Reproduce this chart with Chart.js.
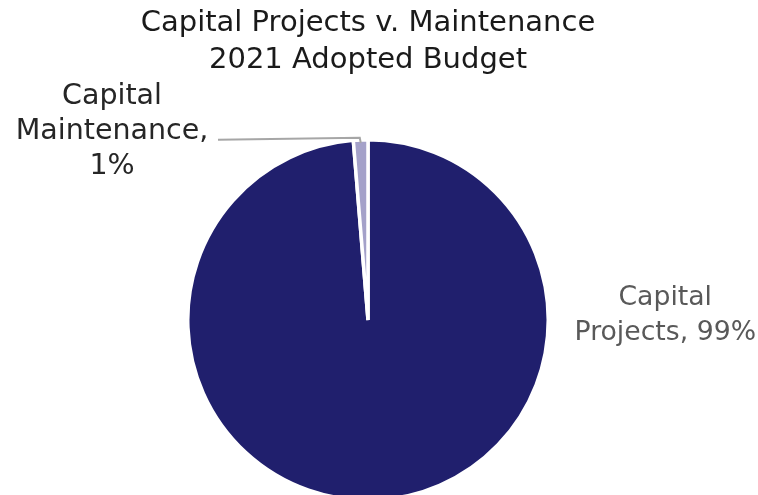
<!DOCTYPE html>
<html>
<head>
<meta charset="utf-8">
<script src="https://cdn.jsdelivr.net/npm/chart.js@4/dist/chart.umd.min.js"></script>
<style>
  html, body { margin: 0; padding: 0; background: #ffffff; overflow: hidden; }
  #wrap { position: relative; width: 758px; height: 502px; }
</style>
</head>
<body>
<div id="wrap"><canvas id="c" width="758" height="502"></canvas></div>
<script>
const titleLines = ['Capital Projects v. Maintenance', '2021 Adopted Budget'];
const categories = ['Capital Projects', 'Capital Maintenance'];
const percentValues = [98.7, 1.3];
const sliceColors = ['#201F6D', '#A4A1C9'];

const FONT = '"DejaVu Sans", sans-serif';

const labelPlugin = {
  id: 'pieLabels',
  afterDatasetsDraw(chart) {
    const ctx = chart.ctx;
    const meta = chart.getDatasetMeta(0);
    const a0 = meta.data[0];
    const a1 = meta.data[1];
    const cx = a0.x, cy = a0.y, r = a0.outerRadius;
    ctx.save();
    ctx.textAlign = 'center';
    ctx.textBaseline = 'middle';
    // Right label (Capital Projects)
    ctx.font = '26.7px ' + FONT;
    ctx.fillStyle = '#595959';
    const rx = cx + r + 117, ry = cy - 22;
    ctx.fillText(categories[0].split(' ')[0], rx, ry);
    ctx.fillText(categories[0].split(' ')[1] + ', ' + Math.round(percentValues[0]) + '%', rx, ry + 35);
    // Left label (Capital Maintenance) with leader line
    const mid = (a1.startAngle + a1.endAngle) / 2;
    const ex = cx + Math.cos(mid) * (r - 3);
    const ey = cy + Math.sin(mid) * (r - 3);
    ctx.strokeStyle = '#A6A6A6';
    ctx.lineWidth = 2;
    ctx.beginPath();
    ctx.moveTo(ex, ey);
    ctx.lineTo(ex - 1, cy - r - 2);
    ctx.lineTo(cx - 150, cy - r);
    ctx.stroke();
    ctx.font = '28.5px ' + FONT;
    ctx.fillStyle = '#262626';
    const lx = cx - 256, ly = cy - r - 43;
    ctx.fillText(categories[1].split(' ')[0], lx, ly);
    ctx.fillText(categories[1].split(' ')[1] + ',', lx, ly + 35);
    ctx.fillText(Math.round(percentValues[1]) + '%', lx, ly + 70);
    ctx.restore();
  }
};

new Chart(document.getElementById('c'), {
  type: 'pie',
  data: {
    labels: categories,
    datasets: [{
      data: percentValues,
      backgroundColor: sliceColors,
      borderColor: '#ffffff',
      borderWidth: 3.5
    }]
  },
  options: {
    responsive: false,
    animation: false,
    layout: { padding: { left: 0, right: 22, top: 0, bottom: 0 } },
    plugins: {
      legend: { display: false },
      tooltip: { enabled: false },
      title: {
        display: true,
        text: titleLines,
        color: '#1a1a1a',
        font: { family: FONT, size: 29, weight: 'normal', lineHeight: 37.5 / 29 },
        padding: { top: 4.5, bottom: 58.5 }
      }
    }
  },
  plugins: [labelPlugin]
});
</script>
</body>
</html>
